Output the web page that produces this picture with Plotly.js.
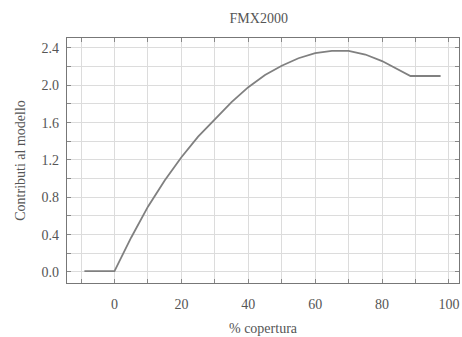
<!DOCTYPE html>
<html>
<head>
<meta charset="utf-8">
<script src="https://cdn.plot.ly/plotly-3.0.1.min.js"></script>
<style>html,body{margin:0;padding:0;background:#fff;}#chart{width:462px;height:337px;}</style>
</head>
<body>
<div id="chart"></div>
<script>
const coverage = [-9, 0, 5, 10, 15, 20, 25, 30, 35, 40, 45, 50, 55, 60, 65, 70, 75, 80, 85, 88.5, 97.5];
const contribution = [0.01, 0.01, 0.37, 0.70, 0.98, 1.23, 1.45, 1.64, 1.82, 1.98, 2.11, 2.21, 2.29, 2.345, 2.37, 2.37, 2.33, 2.26, 2.17, 2.10, 2.10];
const chartTitle = "FMX2000";
const xTitle = "% copertura";
const yTitle = "Contributi al modello";

const font = {family: "Liberation Serif, DejaVu Serif, serif", size: 14, color: "#555"};
const axisCommon = {
  showline: true, linecolor: "#777", linewidth: 1.2, mirror: "ticks",
  ticks: "inside", ticklen: 4, tickcolor: "#888",
  showgrid: true, gridcolor: "#dcdcdc", gridwidth: 1, zeroline: false,
  tickfont: font
};
Plotly.newPlot("chart", [{
  x: coverage, y: contribution, type: "scatter", mode: "lines",
  line: {color: "#808080", width: 1.8, shape: "linear"}
}], {
  width: 462, height: 337,
  margin: {l: 67, r: 3, t: 38, b: 54},
  paper_bgcolor: "#fff", plot_bgcolor: "#fff",
  font: font,
  showlegend: false,
  title: {text: chartTitle, font: font, x: 0.56, xanchor: "center", y: 0.945, yanchor: "middle"},
  xaxis: Object.assign({}, axisCommon, {
    range: [-14.2, 103], tick0: 0, dtick: 20,
    minor: {dtick: 10, showgrid: true, gridcolor: "#dcdcdc", ticks: "inside", ticklen: 4, tickcolor: "#888"},
    ticklabelstandoff: 8,
    title: {text: xTitle, font: font, standoff: 12}
  }),
  yaxis: Object.assign({}, axisCommon, {
    range: [-0.118, 2.507], tick0: 0, dtick: 0.4, tickformat: ".1f",
    minor: {dtick: 0.2, showgrid: true, gridcolor: "#dcdcdc", ticks: "inside", ticklen: 4, tickcolor: "#888"},
    ticklabelstandoff: 4,
    title: {text: yTitle, font: font, standoff: 12}
  })
}, {staticPlot: true});
</script>
</body>
</html>
